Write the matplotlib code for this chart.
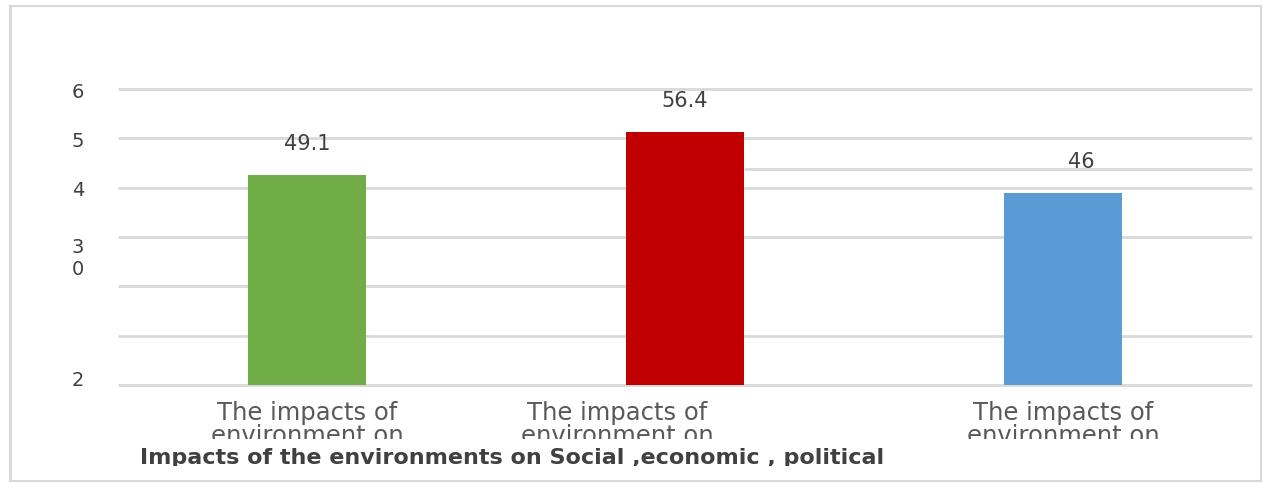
import matplotlib.pyplot as plt
import numpy as np
from matplotlib.patches import Rectangle
from matplotlib.transforms import Bbox, TransformedBbox

# dados do grafico
categorias = ["The impacts of\nenvironment on",
              "The impacts of\nenvironment on",
              "The impacts of\nenvironment on"]
valores = [49.1, 56.4, 46]
cores = ["#70AD47", "#C00000", "#5B9BD5"]
rotulos_y = ["2", "", "", "3\n0", "4", "5", "6"]
titulo_x = "Impacts of the environments on Social ,economic , political"

W, H = 1263, 485
fig = plt.figure(figsize=(W / 100, H / 100), dpi=100)
ax = fig.add_axes([118 / W, 99 / H, 1134 / W, 296 / H])

y_min, y_max = 13.3, 63.8
niveis = np.linspace(y_min, y_max, 7)
nivel_extra = 50.2
x = np.arange(len(valores))
largura = 0.313

ax.set_xlim(-0.5, 2.5)
ax.set_ylim(y_min, y_max)
for s in ax.spines.values():
    s.set_visible(False)

# grelha desenhada a mao (uma das linhas esta partida junto a barra vermelha)
cinza = "#d9d9d9"
for i, nivel in enumerate(niveis):
    fim = 1 - largura / 2 if i == 2 else 2.5
    ax.hlines(nivel, -0.5, fim, color=cinza, lw=2, zorder=1, clip_on=False)
ax.hlines(nivel_extra, 1 + largura / 2, 2.5, color=cinza, lw=2, zorder=1, clip_on=False)

ax.bar(x, valores, width=largura, color=cores, zorder=3)

# valores por cima das barras
desloc_rotulo = [0, 0, 18]
for xi, v, dx in zip(x, valores, desloc_rotulo):
    ax.annotate(f"{v:g}", (xi, v), xytext=(dx, 32), textcoords="offset pixels",
                ha="center", va="center", fontsize=15, color="#404040")

# eixo y
ax.set_yticks(niveis, rotulos_y)
ax.tick_params(axis="y", length=0, pad=24.5, labelsize=14, labelcolor="#404040")
ax.set_xticks([])
for lab in ax.get_yticklabels():
    if lab.get_text() == "2":
        lab.set_verticalalignment("baseline")
    elif "\n" in lab.get_text():
        lab.set_verticalalignment("top")

# nomes das categorias (cortados em baixo)
corte_cat = TransformedBbox(Bbox([[0, 45 / 100], [W / 100, H / 100]]), fig.dpi_scale_trans)
desloc_cat = [0, -68, 0]
for xi, cat, dx in zip(x, categorias, desloc_cat):
    t = ax.annotate(cat, xy=(xi, 0), xycoords=("data", "axes fraction"),
                    xytext=(dx, -15), textcoords="offset pixels",
                    ha="center", va="top", fontsize=17.5, color="#595959",
                    linespacing=0.95, annotation_clip=False)
    t.set_clip_box(corte_cat)
    t.set_clip_on(True)

# titulo do eixo x
corte_tit = TransformedBbox(Bbox([[0, 18 / 100], [W / 100, H / 100]]), fig.dpi_scale_trans)
tt = fig.text(140 / W, (H - 448) / H, titulo_x, ha="left", va="top",
              fontsize=16, fontweight="bold", color="#404040")
tt.set_clip_box(corte_tit)
tt.set_clip_on(True)

# moldura
fig.add_artist(Rectangle((10 / W, 3 / H), 1251 / W, 475 / H, transform=fig.transFigure,
                         fill=False, edgecolor=cinza, lw=1.5))
fig.add_artist(Rectangle((9 / W, 3 / H), 3 / W, 475 / H, transform=fig.transFigure,
                         facecolor=cinza, edgecolor="none"))

fig.savefig("out.png", dpi=100)
